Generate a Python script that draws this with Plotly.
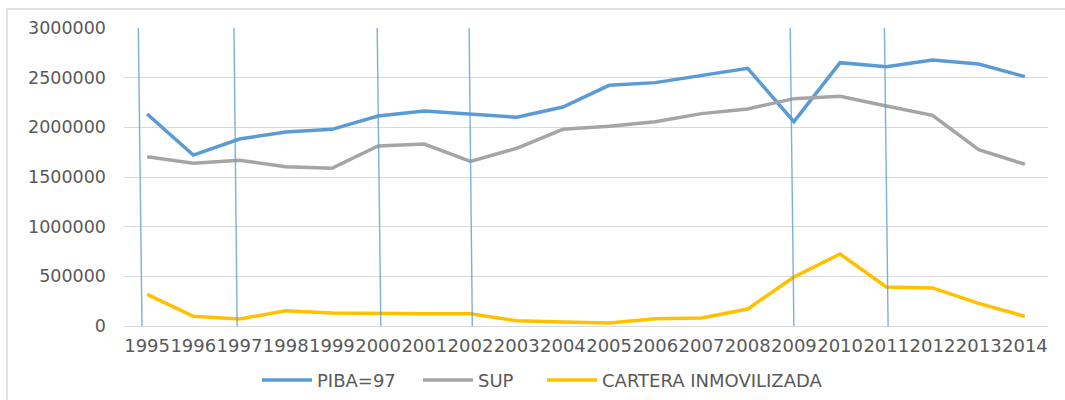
import plotly.graph_objects as go

years = ["1995", "1996", "1997", "1998", "1999", "2000", "2001", "2002", "2003", "2004",
         "2005", "2006", "2007", "2008", "2009", "2010", "2011", "2012", "2013", "2014"]
piba = [2134000, 1721000, 1882000, 1953000, 1980000, 2114000, 2164000, 2134000, 2101000, 2205000,
        2423000, 2450000, 2520000, 2594000, 2057000, 2651000, 2611000, 2678000, 2638000, 2510000]
sup = [1704000, 1638000, 1668000, 1604000, 1587000, 1812000, 1832000, 1658000, 1789000, 1980000,
       2010000, 2057000, 2138000, 2185000, 2289000, 2312000, 2215000, 2121000, 1775000, 1628000]
cartera = [319000, 98000, 70000, 154000, 131000, 124000, 124000, 124000, 53000, 40000,
           30000, 73000, 80000, 171000, 493000, 725000, 393000, 383000, 228000, 97000]
series_names = ["PIBA=97", "SUP", "CARTERA INMOVILIZADA"]
# vertical marker lines (category index positions: top, bottom)
vline_top = [-0.19, 1.88, 4.98, 6.97, 13.92, 15.96]
vline_bottom = [-0.11, 1.95, 5.06, 7.04, 14.0, 16.04]

colors = ["#5B9BD5", "#A5A5A5", "#FFC000"]
FONT = "DejaVu Sans"
TXT = "#595959"

fig = go.Figure()
for name, vals, c in zip(series_names, [piba, sup, cartera], colors):
    fig.add_trace(go.Scatter(x=years, y=vals, mode="lines", name=name,
                             line=dict(color=c, width=3.5), showlegend=False))

L, R, T, B = 124, 1048, 28, 326
def px_x(p):
    return (p - L) / (R - L)
def px_y(p):
    return (B - p) / (B - T)

shapes = []
for t, b in zip(vline_top, vline_bottom):
    shapes.append(dict(type="line", xref="x", yref="y", x0=b, x1=t, y0=-30000, y1=3000000,
                       line=dict(color="rgba(91,155,213,0.8)", width=1.4), layer="above"))
# outer chart frame
shapes.append(dict(type="rect", xref="paper", yref="paper",
                   x0=px_x(7), x1=px_x(1080), y0=px_y(420), y1=px_y(9),
                   line=dict(color="#D9D9D9", width=1.5), fillcolor="rgba(0,0,0,0)", layer="below"))

# custom legend (line sample + label) below the axis
leg_line_x = [262, 423, 547]
leg_y = 380
annotations = []
for name, c, lx in zip(series_names, colors, leg_line_x):
    shapes.append(dict(type="line", xref="paper", yref="paper",
                       x0=px_x(lx), x1=px_x(lx + 50), y0=px_y(leg_y), y1=px_y(leg_y),
                       line=dict(color=c, width=3.5)))
    annotations.append(dict(xref="paper", yref="paper", x=px_x(lx + 53), y=px_y(leg_y),
                            xanchor="left", yanchor="middle", text=name, showarrow=False,
                            font=dict(family=FONT, size=18, color=TXT)))

fig.update_layout(
    width=1065, height=400,
    margin=dict(l=L, r=1065 - R, t=T, b=400 - B),
    paper_bgcolor="white", plot_bgcolor="white",
    font=dict(family=FONT, size=17, color=TXT),
    showlegend=False,
    shapes=shapes,
    annotations=annotations,
)
fig.update_xaxes(type="category", showgrid=False, showline=False, zeroline=False, ticks="",
                 tickangle=0, tickfont=dict(family=FONT, size=18, color=TXT),
                 ticklabelstandoff=7, range=[-0.5, 19.5])
fig.update_yaxes(range=[0, 3000000], dtick=500000, tickformat="d", showgrid=True,
                 gridcolor="#D9D9D9", gridwidth=1, zeroline=True, zerolinecolor="#D9D9D9",
                 zerolinewidth=1, showline=False, ticks="",
                 tickfont=dict(family=FONT, size=17.5, color=TXT), ticklabelstandoff=17)

fig.write_html("out.html", config={"displayModeBar": False},
               post_script="document.body.style.margin='0';document.body.style.overflow='hidden';")
